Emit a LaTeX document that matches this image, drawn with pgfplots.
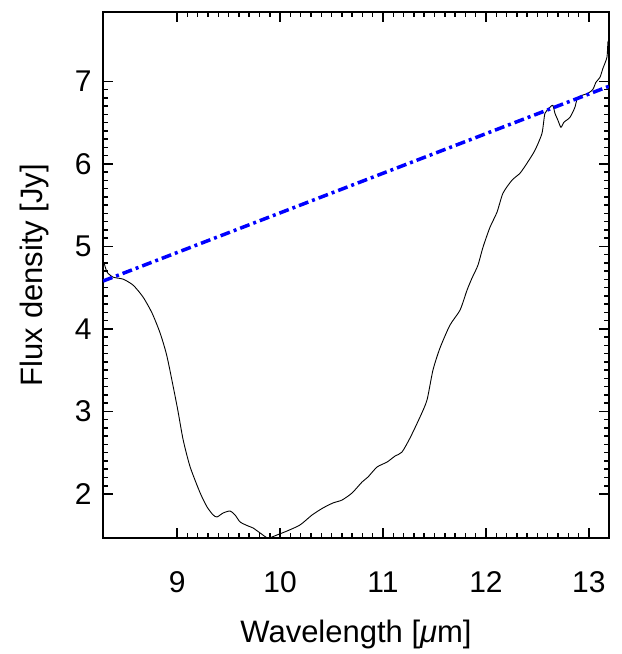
\documentclass[border=0pt]{standalone}
\usepackage{fontspec}
\setmainfont{Liberation Sans}
\usepackage{pgfplots}
\pgfplotsset{compat=1.18}

\begin{document}
\begin{tikzpicture}
\begin{axis}[
    scale only axis,
    width=506pt, height=526pt,
    xmin=8.28, xmax=13.195,
    ymin=1.467, ymax=7.84,
    xtick={9,10,11,12,13},
    ytick={2,3,4,5,6,7},
    minor x tick num=9,
    minor y tick num=9,
    tick align=inside,
    xtick pos=both, ytick pos=both,
    ticklabel pos=left,
    major tick length=10pt,
    minor tick length=5pt,
    every tick/.style={black, line width=1.5pt},
    axis line style={line width=1.8pt},
    /pgf/number format/assume math mode=true,
    ticklabel style={font=\fontsize{30}{34}\selectfont},
    xticklabel style={yshift=-30pt},
    yticklabel style={xshift=-8pt},
    xlabel={Wavelength [\textit{μ}m]},
    ylabel={Flux density [Jy]},
    label style={font=\fontsize{31}{36}\selectfont},
    xlabel style={at={(axis description cs:0.5,-0.1996)}, anchor=base},
    ylabel style={at={(axis description cs:-0.1186,0.5)}, anchor=base, rotate=0},
    clip=true,
]
\addplot[black, line width=0.9pt, smooth, tension=0.4] coordinates {
(8.291,4.797) (8.320,4.688) (8.379,4.627) (8.476,4.603) (8.573,4.530)
(8.670,4.385) (8.757,4.191) (8.835,3.949) (8.903,3.659) (9.000,3.060)
(9.058,2.660) (9.126,2.330) (9.223,2.015) (9.291,1.843) (9.350,1.746)
(9.388,1.722) (9.447,1.770)
(9.515,1.794) (9.563,1.746) (9.612,1.661) (9.689,1.613) (9.738,1.588)
(9.806,1.528) (9.883,1.467) (9.971,1.504) (10.068,1.552) (10.194,1.625)
(10.311,1.746) (10.417,1.831) (10.515,1.892) (10.602,1.927) (10.699,2.012)
(10.796,2.145) (10.854,2.206) (10.942,2.327) (11.039,2.387) (11.117,2.460)
(11.184,2.508) (11.262,2.678) (11.359,2.932) (11.427,3.138) (11.485,3.501)
(11.553,3.768) (11.650,4.046) (11.748,4.228) (11.816,4.470) (11.864,4.615)
(11.922,4.772) (11.971,4.990) (12.039,5.232) (12.107,5.414) (12.165,5.644)
(12.252,5.801) (12.330,5.886) (12.398,6.007) (12.476,6.165) (12.544,6.370)
(12.573,6.613) (12.621,6.685) (12.650,6.709) (12.670,6.613) (12.699,6.528)
(12.728,6.443) (12.757,6.504) (12.816,6.564) (12.864,6.685) (12.893,6.806)
(12.990,6.855) (13.039,6.903) (13.068,6.988) (13.107,7.048) (13.136,7.157)
(13.175,7.291) (13.184,7.460) (13.190,7.400) (13.194,7.617) (13.192,7.55)
(13.196,7.74)
};
\addplot[blue, line width=3.5pt, dash pattern=on 10pt off 4pt on 3pt off 4pt] coordinates {
(8.28,4.58) (13.195,6.94)
};
\end{axis}
\pgfresetboundingbox
\path ([shift={(-103pt,-116pt)}]current axis.south west) rectangle ([shift={(13pt,12pt)}]current axis.north east);
\end{tikzpicture}
\end{document}
